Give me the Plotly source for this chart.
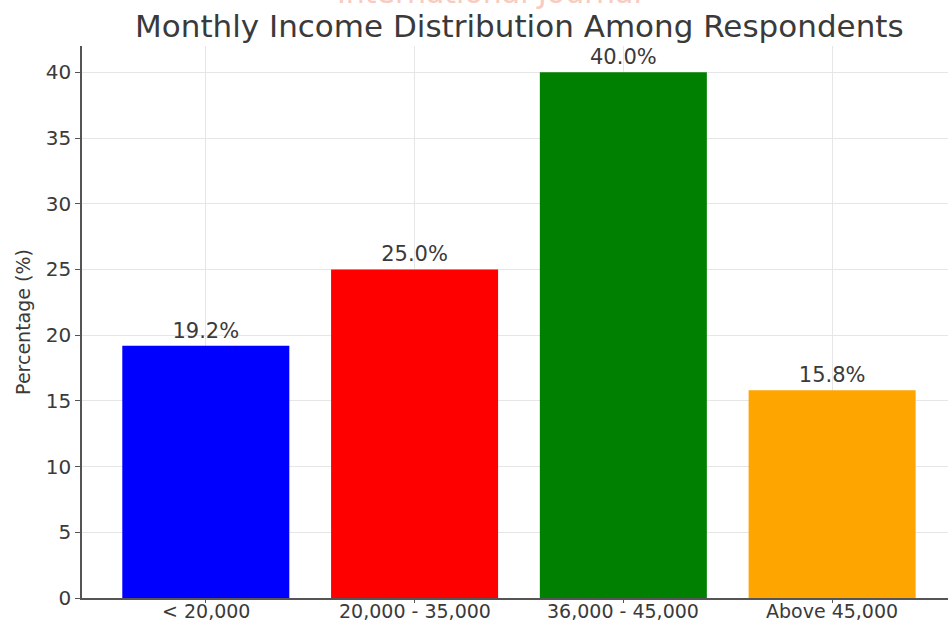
import plotly.graph_objects as go

# Income brackets and share of respondents (%)
categories = ["< 20,000", "20,000 - 35,000", "36,000 - 45,000", "Above 45,000"]
percentages = [19.2, 25.0, 40.0, 15.8]
bar_colors = ["#0000ff", "#ff0000", "#008000", "#ffa500"]
y_ticks = [0, 5, 10, 15, 20, 25, 30, 35, 40]

text_color = "#3a3a3a"
font_family = "DejaVu Sans"

x_pos = list(range(len(categories)))

fig = go.Figure()
fig.add_trace(go.Bar(
    x=x_pos,
    y=percentages,
    width=0.8,
    marker=dict(color=bar_colors, line=dict(width=0)),
    text=[f"{v:.1f}%" for v in percentages],
    textposition="outside",
    textfont=dict(family=font_family, size=21, color=text_color),
    cliponaxis=False,
    hoverinfo="skip",
))

fig.update_layout(
    width=948,
    height=622,
    margin=dict(l=82, r=0, t=46, b=24, autoexpand=False),
    paper_bgcolor="white",
    plot_bgcolor="white",
    showlegend=False,
    font=dict(family=font_family, color=text_color),
    title=dict(
        text="Monthly Income Distribution Among Respondents",
        x=0.505, xref="paper", xanchor="center",
        y=0.958, yref="container", yanchor="middle",
        font=dict(family=font_family, size=31, color=text_color),
    ),
    bargap=0.2,
)

fig.update_xaxes(
    range=[-0.593, 3.555],
    automargin=False,
    tickmode="array",
    tickvals=x_pos,
    showticklabels=False,
    showgrid=True,
    gridcolor="#e6e6e6",
    gridwidth=1,
    showline=True,
    linecolor="#555555",
    linewidth=1.6,
    ticks="outside",
    ticklen=3,
    tickcolor="#555555",
    zeroline=False,
    fixedrange=True,
)

# category labels set tight under the axis so they fit the short bottom margin
for xi, label in zip(x_pos, categories):
    fig.add_annotation(
        text=label,
        xref="x", yref="paper",
        x=xi, y=0, xanchor="center", yanchor="top",
        yshift=-1,
        showarrow=False,
        borderpad=0,
        font=dict(family=font_family, size=19, color=text_color),
    )

fig.update_yaxes(
    range=[0, 42],
    automargin=False,
    tickmode="array",
    tickvals=y_ticks,
    ticktext=[str(t) for t in y_ticks],
    tickfont=dict(family=font_family, size=20, color=text_color),
    title=dict(text="Percentage (%)", font=dict(family=font_family, size=19, color=text_color), standoff=10),
    showgrid=True,
    gridcolor="#e6e6e6",
    gridwidth=1,
    showline=True,
    linecolor="#555555",
    linewidth=1.6,
    ticks="outside",
    ticklen=5,
    tickcolor="#555555",
    zeroline=False,
    fixedrange=True,
)

# faint publisher watermark, clipped at the top edge
fig.add_annotation(
    text="International Journal",
    xref="paper", yref="paper",
    x=0.47, y=1, xanchor="center", yanchor="bottom",
    yshift=34,
    showarrow=False,
    font=dict(family=font_family, size=30, color="#f8cbbf"),
)

fig.write_html("out.html")
